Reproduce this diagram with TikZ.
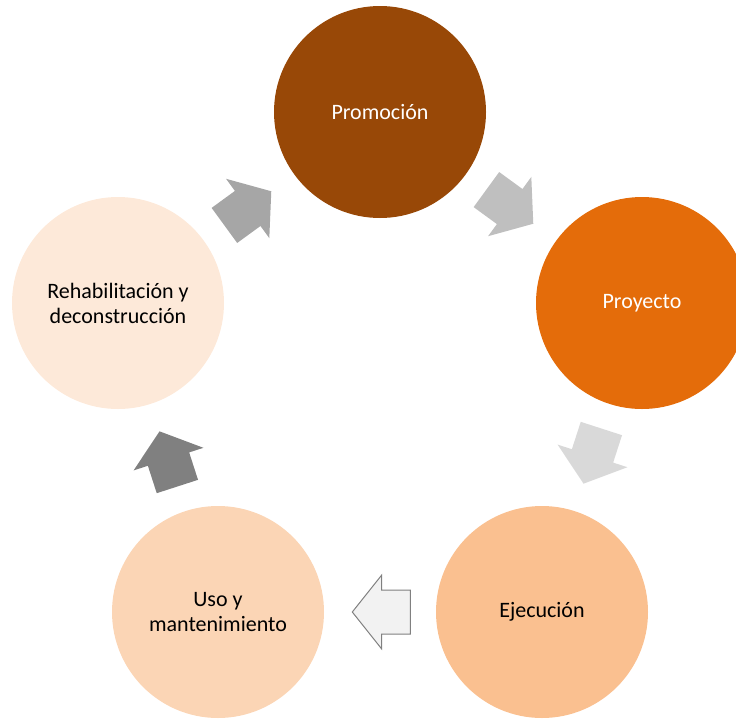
\documentclass[tikz,border=0pt]{standalone}
\usepackage{fontspec}
\setmainfont{Carlito}
\usetikzlibrary{shapes.arrows}
\definecolor{promo}{HTML}{984807}
\definecolor{proy}{HTML}{E46C0A}
\definecolor{ejec}{HTML}{FAC090}
\definecolor{uso}{HTML}{FBD5B5}
\definecolor{rehab}{HTML}{FDE9D9}
\tikzset{
  etapa/.style={circle, minimum size=212pt, inner sep=0pt, align=center,
    font=\fontsize{22}{25}\selectfont},
  flecha/.style={single arrow, draw=none, minimum height=58pt,
    single arrow head extend=15pt, single arrow tip angle=103,
    inner xsep=0pt, inner ysep=21.5pt, sloped, allow upside down, pos=0.41}
}
\begin{document}
\begin{tikzpicture}[x=1pt, y=-1pt]
	\useasboundingbox (0,0) rectangle (736,718);
	\clip (0,0) rectangle (736,718);
	\node[etapa, fill=promo, text=white] (promo) at (380,112) {Promoción};
	\node[etapa, fill=proy, text=white] (proy) at (642,303) {Proyecto};
	\node[etapa, fill=ejec] (ejec) at (542,612) {Ejecución};
	\node[etapa, fill=uso] (uso) at (218,612) {Uso y\\mantenimiento};
	\node[etapa, fill=rehab] (rehab) at (118,303) {Rehabilitación y\\deconstrucción};
	\path (rehab) -- node[flecha, fill=black!35] {} (promo);
	\path (promo) -- node[flecha, fill=black!25] {} (proy);
	\path (proy) -- node[flecha, fill=black!15] {} (ejec);
	\path (ejec) -- node[flecha, fill=black!5, draw=black!50, line width=1pt] {} (uso);
	\path (uso) -- node[flecha, fill=black!50] {} (rehab);
\end{tikzpicture}
\end{document}
